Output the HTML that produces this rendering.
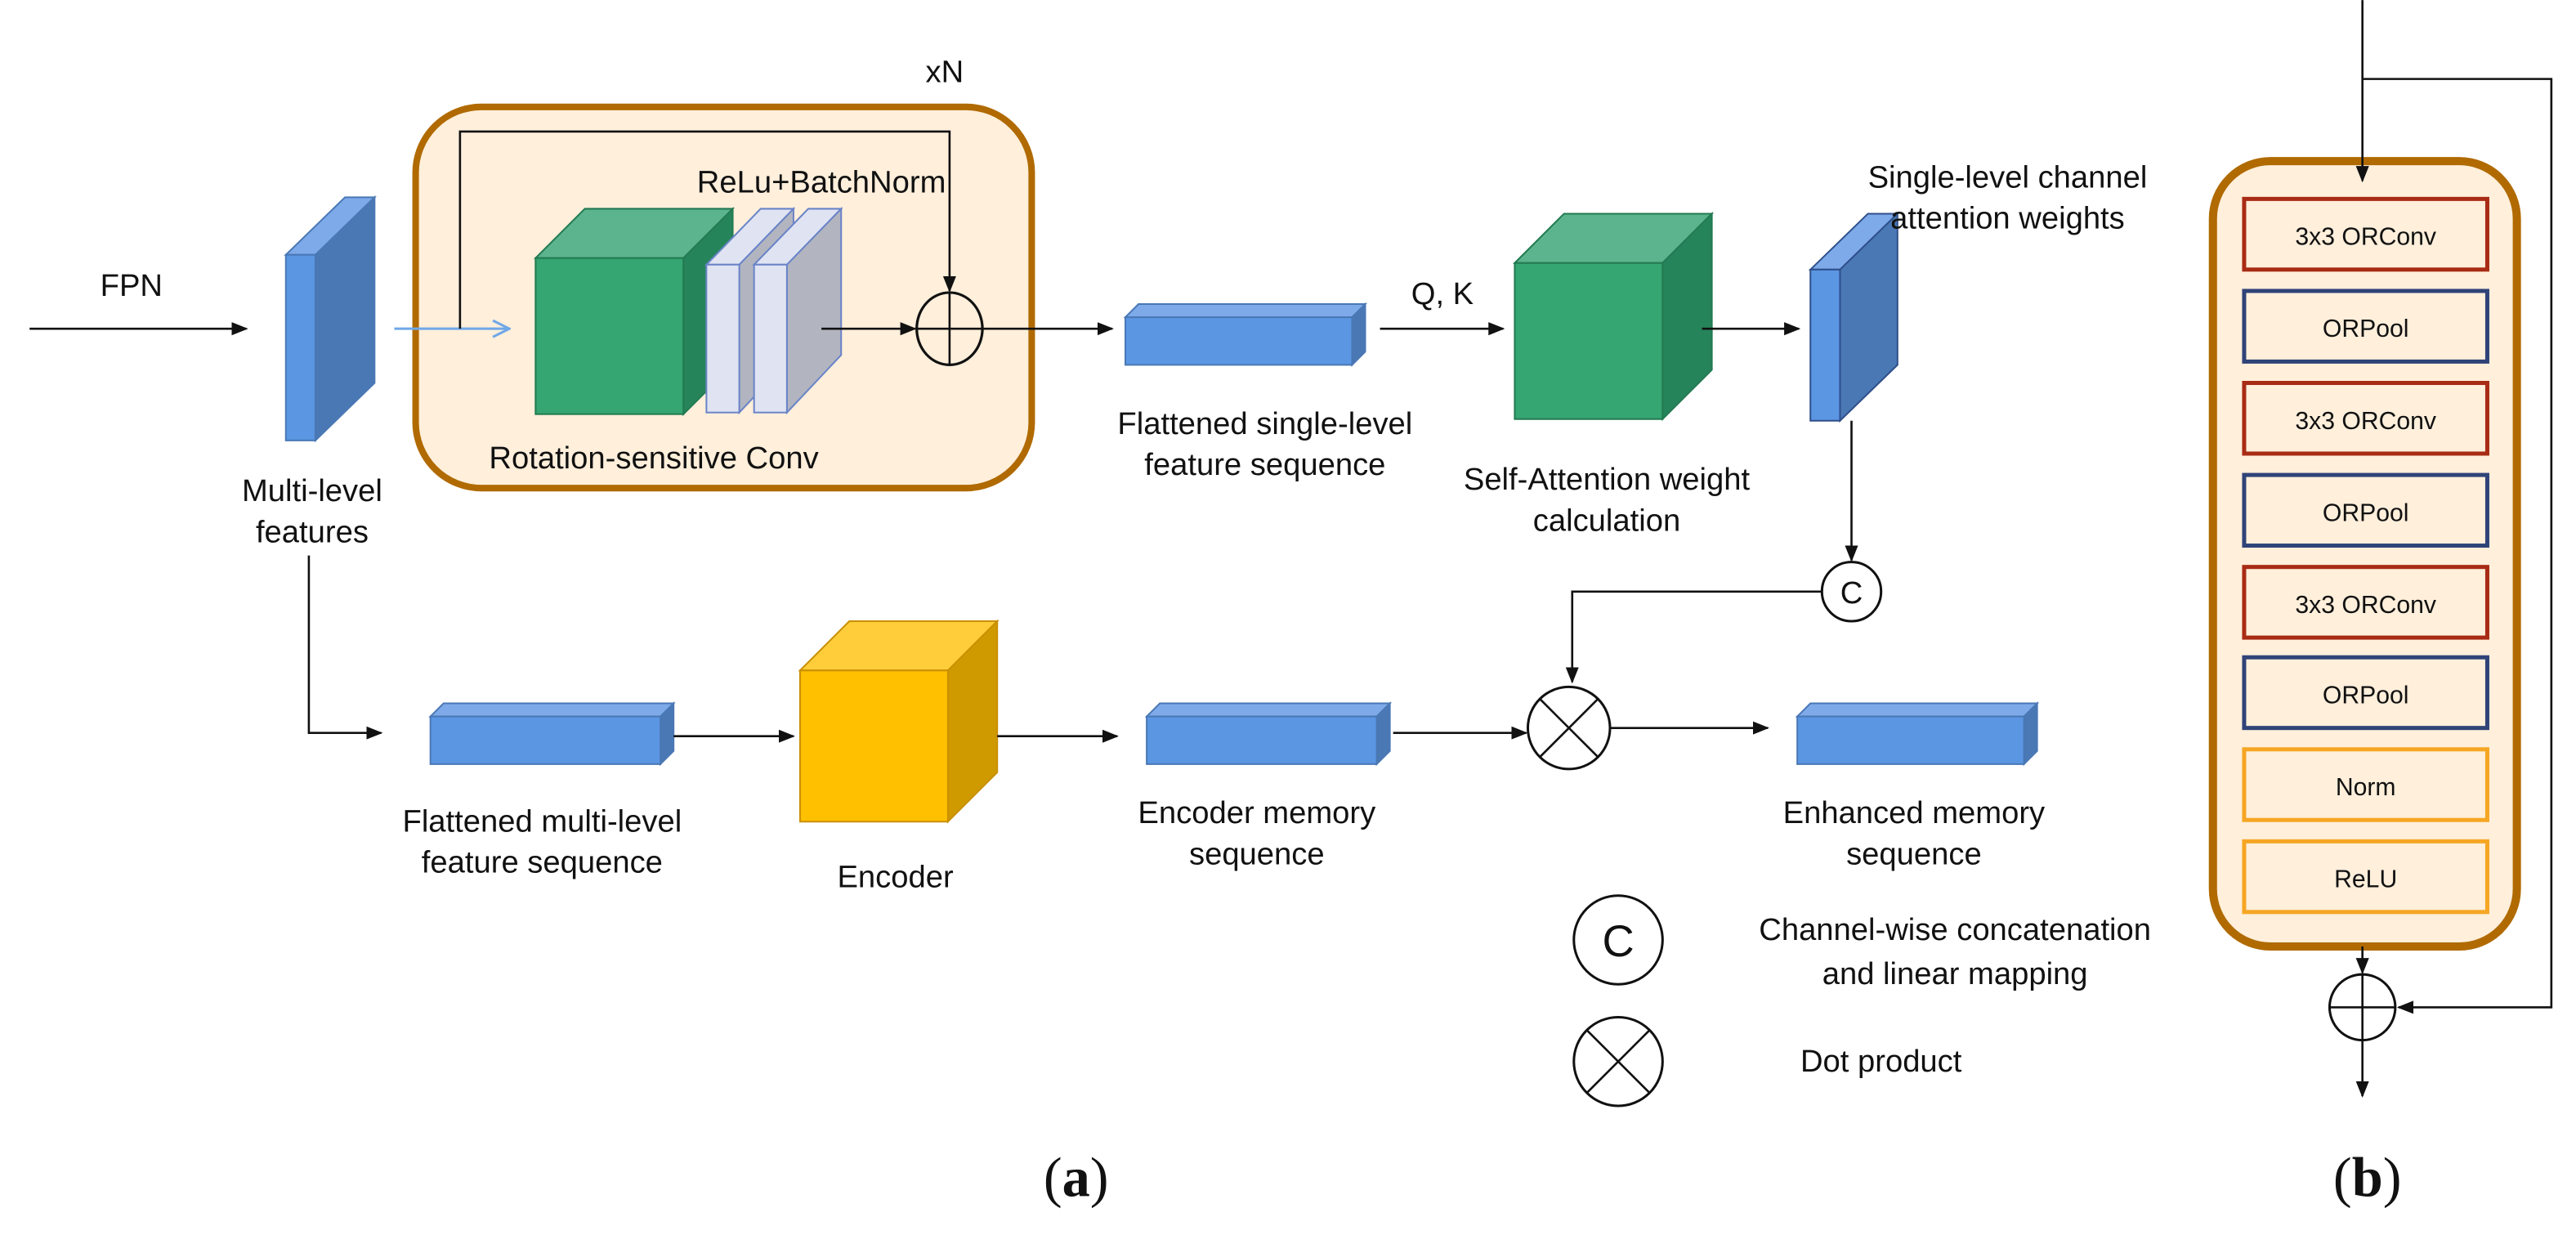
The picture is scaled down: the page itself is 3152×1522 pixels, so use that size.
<!DOCTYPE html>
<html><head><meta charset="utf-8"><style>
html,body{margin:0;padding:0;background:#fff;}
svg{display:block;}
text{font-family:"Liberation Sans",sans-serif;fill:#111;}
</style></head><body>
<svg width="3152" height="1522" viewBox="0 0 1568 757" xmlns="http://www.w3.org/2000/svg">
<defs>
<marker id="a" markerWidth="10" markerHeight="10" refX="9" refY="5" orient="auto" markerUnits="userSpaceOnUse"><path d="M0,1 L10,5 L0,9 Z" fill="#111"/></marker>
<marker id="ab" markerWidth="12" markerHeight="12" refX="11" refY="6" orient="auto" markerUnits="userSpaceOnUse"><path d="M1,1 L11,6 L1,11" fill="none" stroke="#6fa8e8" stroke-width="1.5"/></marker>
</defs>
<g stroke-width="1.3" fill="none" stroke="#111">
<line x1="18" y1="200" x2="150" y2="200" marker-end="url(#a)"/>
</g>
<text x="80" y="180" font-size="19" text-anchor="middle">FPN</text>

<polygon points="174,155 192,155 228,120 210,120" fill="#7eaaea" stroke="#4a78b5"/>
<polygon points="192,155 228,120 228,233 192,268" fill="#4a78b5" stroke="#4a78b5"/>
<rect x="174" y="155" width="18" height="113" fill="#5b96e3" stroke="#4a78b5"/>
<text x="190" y="305" font-size="19" text-anchor="middle">Multi-level</text>
<text x="190" y="330" font-size="19" text-anchor="middle">features</text>

<rect x="253" y="65" width="375" height="232" rx="40" fill="#ffefdb" stroke="#b06a00" stroke-width="4"/>
<text x="575" y="50" font-size="19" text-anchor="middle">xN</text>
<line x1="240" y1="200" x2="310" y2="200" stroke="#6fa8e8" stroke-width="1.5" marker-end="url(#ab)"/>
<polyline points="280,200 280,80 578,80 578,177" fill="none" stroke="#111" stroke-width="1.3" marker-end="url(#a)"/>
<text x="500" y="117" font-size="19" text-anchor="middle">ReLu+BatchNorm</text>
<polygon points="326,157 416,157 446,127 356,127" fill="#5bb48e" stroke="#237a52"/>
<polygon points="416,157 446,127 446,222 416,252" fill="#26845a" stroke="#237a52"/>
<rect x="326" y="157" width="90" height="95" fill="#35a571" stroke="#237a52"/>
<polygon points="430,161 450,161 483,127 463,127" fill="#e0e4f2" stroke="#6a84c8"/>
<polygon points="450,161 483,127 483,216 450,251" fill="#b2b5c0" stroke="#6a84c8"/>
<rect x="430" y="161" width="20" height="90" fill="#e0e4f2" stroke="#6a84c8"/>
<polygon points="459,161 479,161 512,127 492,127" fill="#e0e4f2" stroke="#6a84c8"/>
<polygon points="479,161 512,127 512,216 479,251" fill="#b2b5c0" stroke="#6a84c8"/>
<rect x="459" y="161" width="20" height="90" fill="#e0e4f2" stroke="#6a84c8"/>
<line x1="500" y1="200" x2="557" y2="200" stroke="#111" stroke-width="1.3" marker-end="url(#a)"/>
<ellipse cx="578" cy="200" rx="20" ry="22" fill="none" stroke="#111" stroke-width="1.6"/>
<line x1="558" y1="200" x2="598" y2="200" stroke="#111" stroke-width="1.3"/>
<line x1="578" y1="178" x2="578" y2="222" stroke="#111" stroke-width="1.3"/>
<line x1="598" y1="200" x2="677" y2="200" stroke="#111" stroke-width="1.3" marker-end="url(#a)"/>
<text x="398" y="285" font-size="19" text-anchor="middle">Rotation-sensitive Conv</text>

<polygon points="685,193 823,193 831,185 693,185" fill="#7eaaea" stroke="#4a78b5"/>
<polygon points="823,193 831,185 831,214 823,222" fill="#4a78b5" stroke="#4a78b5"/>
<rect x="685" y="193" width="138" height="29" fill="#5b96e3" stroke="#4a78b5"/>
<text x="770" y="264" font-size="19" text-anchor="middle">Flattened single-level</text>
<text x="770" y="289" font-size="19" text-anchor="middle">feature sequence</text>

<text x="878" y="185" font-size="19" text-anchor="middle">Q, K</text>
<line x1="840" y1="200" x2="915" y2="200" stroke="#111" stroke-width="1.3" marker-end="url(#a)"/>
<polygon points="922,160 1012,160 1042,130 952,130" fill="#5bb48e" stroke="#237a52"/>
<polygon points="1012,160 1042,130 1042,225 1012,255" fill="#26845a" stroke="#237a52"/>
<rect x="922" y="160" width="90" height="95" fill="#35a571" stroke="#237a52"/>
<text x="978" y="298" font-size="19" text-anchor="middle">Self-Attention weight</text>
<text x="978" y="323" font-size="19" text-anchor="middle">calculation</text>
<line x1="1036" y1="200" x2="1095" y2="200" stroke="#111" stroke-width="1.3" marker-end="url(#a)"/>
<polygon points="1102,164 1120,164 1155,130 1137,130" fill="#7eaaea" stroke="#2f4f8a"/>
<polygon points="1120,164 1155,130 1155,222 1120,256" fill="#4a78b5" stroke="#2f4f8a"/>
<rect x="1102" y="164" width="18" height="92" fill="#5b96e3" stroke="#2f4f8a"/>
<text x="1222" y="114" font-size="19" text-anchor="middle">Single-level channel</text>
<text x="1222" y="139" font-size="19" text-anchor="middle">attention weights</text>
<line x1="1127" y1="256" x2="1127" y2="341" stroke="#111" stroke-width="1.3" marker-end="url(#a)"/>
<circle cx="1127" cy="360" r="18" fill="#fff" stroke="#111" stroke-width="1.5"/>
<text x="1127" y="367" font-size="19" text-anchor="middle">C</text>
<polyline points="1109,360 957,360 957,415" fill="none" stroke="#111" stroke-width="1.3" marker-end="url(#a)"/>

<polyline points="188,338 188,446 232,446" fill="none" stroke="#111" stroke-width="1.3" marker-end="url(#a)"/>
<polygon points="262,436 402,436 410,428 270,428" fill="#7eaaea" stroke="#4a78b5"/>
<polygon points="402,436 410,428 410,457 402,465" fill="#4a78b5" stroke="#4a78b5"/>
<rect x="262" y="436" width="140" height="29" fill="#5b96e3" stroke="#4a78b5"/>
<text x="330" y="506" font-size="19" text-anchor="middle">Flattened multi-level</text>
<text x="330" y="531" font-size="19" text-anchor="middle">feature sequence</text>
<line x1="410" y1="448" x2="483" y2="448" stroke="#111" stroke-width="1.3" marker-end="url(#a)"/>
<polygon points="487,408 577,408 607,378 517,378" fill="#ffcd3a" stroke="#c98f00"/>
<polygon points="577,408 607,378 607,470 577,500" fill="#cf9a00" stroke="#c98f00"/>
<rect x="487" y="408" width="90" height="92" fill="#ffc000" stroke="#c98f00"/>
<text x="545" y="540" font-size="19" text-anchor="middle">Encoder</text>
<line x1="607" y1="448" x2="680" y2="448" stroke="#111" stroke-width="1.3" marker-end="url(#a)"/>
<polygon points="698,436 838,436 846,428 706,428" fill="#7eaaea" stroke="#4a78b5"/>
<polygon points="838,436 846,428 846,457 838,465" fill="#4a78b5" stroke="#4a78b5"/>
<rect x="698" y="436" width="140" height="29" fill="#5b96e3" stroke="#4a78b5"/>
<text x="765" y="501" font-size="19" text-anchor="middle">Encoder memory</text>
<text x="765" y="526" font-size="19" text-anchor="middle">sequence</text>
<line x1="848" y1="446" x2="929" y2="446" stroke="#111" stroke-width="1.3" marker-end="url(#a)"/>
<circle cx="955" cy="443" r="25" fill="#fff" stroke="#111" stroke-width="1.5"/>
<line x1="937" y1="425" x2="973" y2="461" stroke="#111" stroke-width="1.3"/>
<line x1="973" y1="425" x2="937" y2="461" stroke="#111" stroke-width="1.3"/>
<line x1="980" y1="443" x2="1076" y2="443" stroke="#111" stroke-width="1.3" marker-end="url(#a)"/>
<polygon points="1094,436 1232,436 1240,428 1102,428" fill="#7eaaea" stroke="#4a78b5"/>
<polygon points="1232,436 1240,428 1240,457 1232,465" fill="#4a78b5" stroke="#4a78b5"/>
<rect x="1094" y="436" width="138" height="29" fill="#5b96e3" stroke="#4a78b5"/>
<text x="1165" y="501" font-size="19" text-anchor="middle">Enhanced memory</text>
<text x="1165" y="526" font-size="19" text-anchor="middle">sequence</text>

<circle cx="985" cy="572" r="27" fill="#fff" stroke="#111" stroke-width="1.5"/>
<text x="985" y="582" font-size="27" text-anchor="middle">C</text>
<text x="1190" y="572" font-size="19" text-anchor="middle">Channel-wise concatenation</text>
<text x="1190" y="599" font-size="19" text-anchor="middle">and linear mapping</text>
<circle cx="985" cy="646" r="27" fill="#fff" stroke="#111" stroke-width="1.5"/>
<line x1="966" y1="627" x2="1004" y2="665" stroke="#111" stroke-width="1.3"/>
<line x1="1004" y1="627" x2="966" y2="665" stroke="#111" stroke-width="1.3"/>
<text x="1145" y="652" font-size="19" text-anchor="middle">Dot product</text>

<text x="655" y="728" font-size="34" text-anchor="middle" style="font-family:'Liberation Serif',serif">(<tspan font-weight="bold">a</tspan>)</text>
<text x="1441" y="728" font-size="34" text-anchor="middle" style="font-family:'Liberation Serif',serif">(<tspan font-weight="bold">b</tspan>)</text>

<polyline points="1438,48 1553,48 1553,613 1460,613" fill="none" stroke="#111" stroke-width="1.3" marker-end="url(#a)"/>
<rect x="1347" y="98" width="185" height="478" rx="35" fill="#ffefdb" stroke="#b06a00" stroke-width="5"/>
<line x1="1438" y1="0" x2="1438" y2="110" stroke="#111" stroke-width="1.3" marker-end="url(#a)"/>
<g font-size="15" text-anchor="middle" stroke-width="2.5">
<rect x="1366" y="121" width="148" height="43" fill="#ffefdb" stroke="#a82b14"/>
<text x="1440" y="149">3x3 ORConv</text>
<rect x="1366" y="177" width="148" height="43" fill="#ffefdb" stroke="#2f4378"/>
<text x="1440" y="205">ORPool</text>
<rect x="1366" y="233" width="148" height="43" fill="#ffefdb" stroke="#a82b14"/>
<text x="1440" y="261">3x3 ORConv</text>
<rect x="1366" y="289" width="148" height="43" fill="#ffefdb" stroke="#2f4378"/>
<text x="1440" y="317">ORPool</text>
<rect x="1366" y="345" width="148" height="43" fill="#ffefdb" stroke="#a82b14"/>
<text x="1440" y="373">3x3 ORConv</text>
<rect x="1366" y="400" width="148" height="43" fill="#ffefdb" stroke="#2f4378"/>
<text x="1440" y="428">ORPool</text>
<rect x="1366" y="456" width="148" height="43" fill="#ffefdb" stroke="#f5a623"/>
<text x="1440" y="484">Norm</text>
<rect x="1366" y="512" width="148" height="43" fill="#ffefdb" stroke="#f5a623"/>
<text x="1440" y="540">ReLU</text>
</g>
<line x1="1438" y1="576" x2="1438" y2="592" stroke="#111" stroke-width="1.3" marker-end="url(#a)"/>
<circle cx="1438" cy="613" r="20" fill="#fff" stroke="#111" stroke-width="1.5"/>
<line x1="1418" y1="613" x2="1458" y2="613" stroke="#111" stroke-width="1.3"/>
<line x1="1438" y1="593" x2="1438" y2="633" stroke="#111" stroke-width="1.3"/>
<line x1="1438" y1="633" x2="1438" y2="667" stroke="#111" stroke-width="1.3" marker-end="url(#a)"/>
</svg>
</body></html>
